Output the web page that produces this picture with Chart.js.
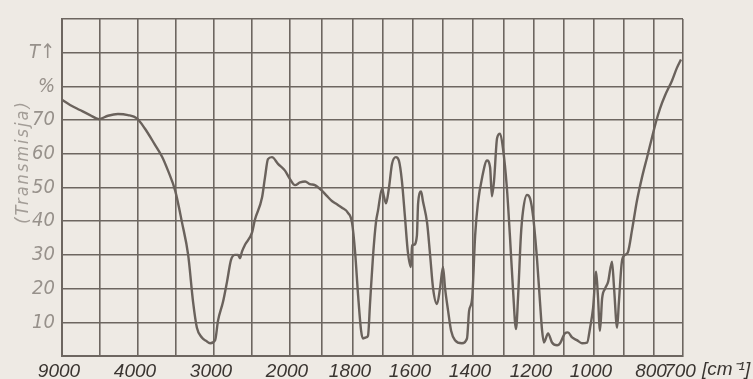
<!DOCTYPE html>
<html>
<head>
<meta charset="utf-8">
<script src="https://cdn.jsdelivr.net/npm/chart.js@4.4.0/dist/chart.umd.min.js"></script>
<style>
  html, body { margin: 0; padding: 0; background: #eeeae4; }
  #wrap { width: 753px; height: 379px; }
</style>
</head>
<body>
<div id="wrap"><canvas id="irChart" width="753" height="379"></canvas></div>
<script>
// IR trace: wavenumber (cm-1) and transmission (%)
const wavenumbers = [
  9000, 8470, 7820, 7160, 6570, 5970, 5320, 4660, 4070, 3910, 3780, 3680, 3605, 3510, 3420, 3340,
  3275, 3225, 3160, 3105, 3050, 2985, 2947, 2882, 2829, 2776, 2724, 2684, 2658, 2632, 2592, 2500,
  2461, 2368, 2329, 2290, 2237, 2158, 2066, 2000, 1984, 1968, 1952, 1937, 1921, 1898, 1883, 1867,
  1851, 1835, 1816, 1803, 1793, 1783, 1773, 1767, 1757, 1750, 1743, 1733, 1723, 1717, 1703, 1697,
  1690, 1680, 1670, 1657, 1647, 1637, 1627, 1617, 1607, 1603, 1597, 1587, 1583, 1573, 1567, 1553,
  1543, 1533, 1520, 1510, 1500, 1493, 1483, 1473, 1460, 1437, 1420, 1413, 1403, 1393, 1384, 1370,
  1354, 1344, 1338, 1331, 1321, 1311, 1302, 1289, 1279, 1269, 1259, 1252, 1243, 1236, 1223, 1213,
  1203, 1190, 1180, 1173, 1167, 1153, 1140, 1123, 1113, 1097, 1087, 1073, 1057, 1040, 1023, 1013,
  1003, 993, 987, 980, 973, 963, 953, 940, 933, 923, 917, 907, 897, 887, 873, 857,
  840, 823, 807, 793, 779, 762, 738, 721, 707
];
const transmission = [
  76, 74.5, 73, 71.5, 70.3, 71.3, 71.8, 71.5, 70.5, 67.5, 62.8, 59, 55, 49, 39.5, 30,
  16, 8.4, 5.5, 4.5, 3.8, 4.7, 10.5, 16, 22, 28.5, 30, 30, 29, 31, 33, 36.6,
  40.5, 47, 53, 58.4, 59, 57, 55, 52.5, 50.7, 51.5, 51.8, 51, 50.7, 49, 47.5, 46,
  45, 44, 42.5, 39.5, 30.8, 18, 7.5, 5.2, 5.5, 6, 16, 30, 40, 43, 49.7, 47.4,
  45.3, 50, 57, 59, 58, 52, 41.5, 30.8, 26.4, 32.8, 33, 35.7, 45.3, 48.8, 46, 39.5,
  30, 20, 15.4, 20, 26.4, 20, 13.4, 7.5, 4.7, 3.8, 5.2, 13.4, 17, 35.7, 45.3, 53,
  58, 56, 47.4, 52, 64.7, 66, 61.8, 50, 35.7, 20, 8, 18, 35.7, 43, 47.8, 46.8,
  41.5, 28.8, 16, 7.5, 4, 6.7, 4, 3.2, 3.8, 6.7, 7, 5.5, 4.7, 3.8, 4, 8.4,
  14.3, 25, 18, 7.5, 17, 20, 22, 28, 20, 8.4, 16, 28, 30, 30.8, 37.5, 46,
  53, 59, 64.7, 69.5, 73.5, 77.3, 81.7, 85.5, 88
];

// labelled wavenumbers along the bottom
const tickWavenumbers = [9000, 4000, 3000, 2000, 1800, 1600, 1400, 1200, 1000, 800, 700];

// transmission gridlines and their labels
const yTickValues = [0, 10, 20, 30, 40, 50, 60, 70, 80, 90, 100];
const yTickLabels = ['', '10', '20', '30', '40', '50', '60', '70', '%', 'T\u2191', ''];

// the paper is not linear in wavenumber: where each labelled stop sits along the axis
const axisStops = [0, 76, 152, 228, 291, 351, 411, 472, 532, 592, 621];

function toAxis(wn) {
  for (let i = 0; i < tickWavenumbers.length - 1; i++) {
    const a = tickWavenumbers[i], b = tickWavenumbers[i + 1];
    if (wn <= a && wn >= b) {
      return axisStops[i] + (a - wn) / (a - b) * (axisStops[i + 1] - axisStops[i]);
    }
  }
  return wn > tickWavenumbers[0] ? 0 : axisStops[axisStops.length - 1];
}

// every labelled interval is split in two cells, except the last one
const gridStops = [];
axisStops.forEach((p, i) => {
  gridStops.push(p);
  if (i < axisStops.length - 2) gridStops.push((p + axisStops[i + 1]) / 2);
});

const points = wavenumbers.map((wn, i) => ({ x: toAxis(wn), y: transmission[i] }));

const inkColor = '#6d6660';
const narrowItalic = "'Liberation Sans Narrow', 'DejaVu Sans Condensed', 'Liberation Sans', sans-serif";

const extraText = {
  id: 'extraText',
  afterDraw(chart) {
    const ctx = chart.ctx;
    ctx.save();
    ctx.fillStyle = '#a39d97';
    ctx.font = 'italic 18px ' + narrowItalic;
    ctx.letterSpacing = '2px';
    ctx.textAlign = 'center';
    ctx.textBaseline = 'middle';
    ctx.translate(23, 162);
    ctx.rotate(-Math.PI / 2);
    ctx.fillText('(Transmisja)', 0, 0);
    ctx.restore();

    ctx.save();
    ctx.fillStyle = '#3a3531';
    ctx.font = 'italic 19px "Liberation Sans", sans-serif';
    ctx.textAlign = 'left';
    ctx.textBaseline = 'middle';
    ctx.fillText('[cm\u207B\u00B9]', 702, 370);
    ctx.restore();
  }
};

new Chart(document.getElementById('irChart'), {
  type: 'line',
  data: {
    datasets: [{
      data: points,
      borderColor: '#6a625c',
      borderWidth: 2.4,
      pointRadius: 0,
      cubicInterpolationMode: 'monotone',
      fill: false
    }]
  },
  options: {
    responsive: false,
    animation: false,
    layout: { padding: { left: 0, right: 70, top: 12, bottom: 0 } },
    plugins: { legend: { display: false }, tooltip: { enabled: false } },
    scales: {
      x: {
        type: 'linear',
        min: 0,
        max: axisStops[axisStops.length - 1],
        afterBuildTicks: s => { s.ticks = gridStops.map(v => ({ value: v })); },
        afterFit: s => { s.height = 23; },
        grid: { color: inkColor, lineWidth: 1.6, drawTicks: false },
        border: { color: inkColor, width: 2 },
        ticks: {
          autoSkip: false,
          maxRotation: 0,
          padding: 4,
          labelOffset: -3,
          color: '#3a3531',
          font: { family: '"Liberation Sans", sans-serif', size: 19, style: 'italic' },
          callback: v => {
            const i = axisStops.indexOf(v);
            return i >= 0 ? String(tickWavenumbers[i]) : '';
          }
        }
      },
      y: {
        min: 0,
        max: 100,
        afterBuildTicks: s => { s.ticks = yTickValues.map(v => ({ value: v })); },
        afterFit: s => { s.width = 62; },
        grid: { color: inkColor, lineWidth: 1.6, drawTicks: false },
        border: { color: inkColor, width: 2 },
        ticks: {
          padding: 7,
          color: '#97918b',
          font: { family: narrowItalic, size: 20, style: 'italic' },
          callback: v => yTickLabels[yTickValues.indexOf(v)]
        }
      }
    }
  },
  plugins: [extraText]
});
</script>
</body>
</html>
